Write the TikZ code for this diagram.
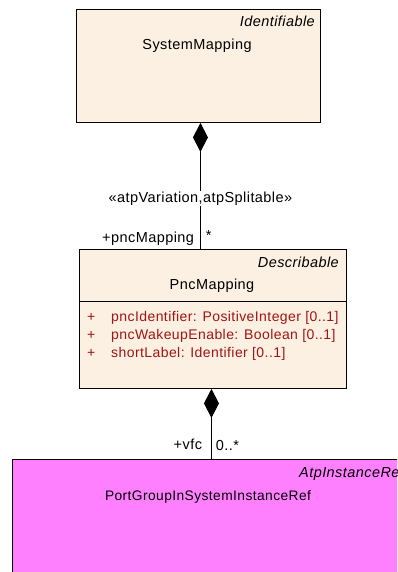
\documentclass[tikz,border=0pt]{standalone}
\usepackage{fontspec}
\setmainfont{Liberation Sans}[LetterSpace=3]
\usetikzlibrary{arrows.meta,positioning}
\definecolor{classfill}{RGB}{251,240,225}
\definecolor{reffill}{RGB}{255,128,255}
\definecolor{attrred}{RGB}{160,20,20}

\begin{document}
\begin{tikzpicture}[x=1pt,y=-1pt,
  every node/.style={font=\fontsize{14.5}{17}\selectfont,inner sep=0pt},
  classbox/.style={draw,line width=0.9pt,fill=#1,anchor=north west},
  classbox/.default=classfill,
  attr/.style={text=attrred,anchor=base west,font=\fontsize{14}{17}\selectfont},
  composition/.style={line width=0.9pt,{Diamond[length=29pt,width=15pt]}-}]
  \useasboundingbox (0,0) rectangle (397,572);
  \clip (0,0) rectangle (397,572);
  % classes
  \node[classbox,minimum width=244,minimum height=113] (sys) at (76,9) {};
  \node[classbox,minimum width=267,minimum height=139] (pnc) at (79,249) {};
  \node[classbox=reffill,minimum width=396,minimum height=140] (ref) at (12,459) {};
  \draw[line width=0.9pt] (pnc.west |- 0,301) -- (pnc.east |- 0,301);
  % class texts
  \node[anchor=base east,font=\fontsize{14.5}{17}\selectfont\itshape] (sysstereo) at (315,27) {Identifiable};
  \node[anchor=base] (sysname) at (197,50) {SystemMapping};
  \node[anchor=base east,font=\fontsize{14.5}{17}\selectfont\itshape] (pncstereo) at (339,267) {Describable};
  \node[anchor=base] (pncname) at (212,289) {PncMapping};
  \foreach \y/\t [count=\i] in {321/{pncIdentifier: PositiveInteger [0..1]},
      339/{pncWakeupEnable: Boolean [0..1]},357/{shortLabel: Identifier [0..1]}}{
    \node[attr] (vis\i) at (87,\y) {+};
    \node[attr] (attr\i) at (111,\y) {\t};
  }
  \node[anchor=base west,font=\fontsize{14.5}{17}\selectfont\itshape] (refstereo) at (299,477) {AtpInstanceRef};
  \node[anchor=base,font=\fontsize{13.8}{17}\selectfont] (refname) at (208,500) {PortGroupInSystemInstanceRef};
  % connectors
  \draw[composition] ([xshift=2pt]sys.south) -- ([xshift=2pt]sys.south |- pnc.north)
    node[pos=0.6,fill=white,inner sep=1pt] (variation) {«atpVariation,atpSplitable»}
    node[pos=1,anchor=south east,xshift=-6pt,yshift=3pt] (pncrole) {+pncMapping}
    node[pos=1,anchor=south west,xshift=5pt,yshift=8pt] (pncmult) {*};
  \draw[composition] ([xshift=-1.5pt]pnc.south) -- ([xshift=-1.5pt]pnc.south |- ref.north)
    node[pos=1,anchor=south east,xshift=-9pt,yshift=9pt] (vfcrole) {+vfc}
    node[pos=1,anchor=south west,xshift=4pt,yshift=8pt] (vfcmult) {0..*};
\end{tikzpicture}
\end{document}
